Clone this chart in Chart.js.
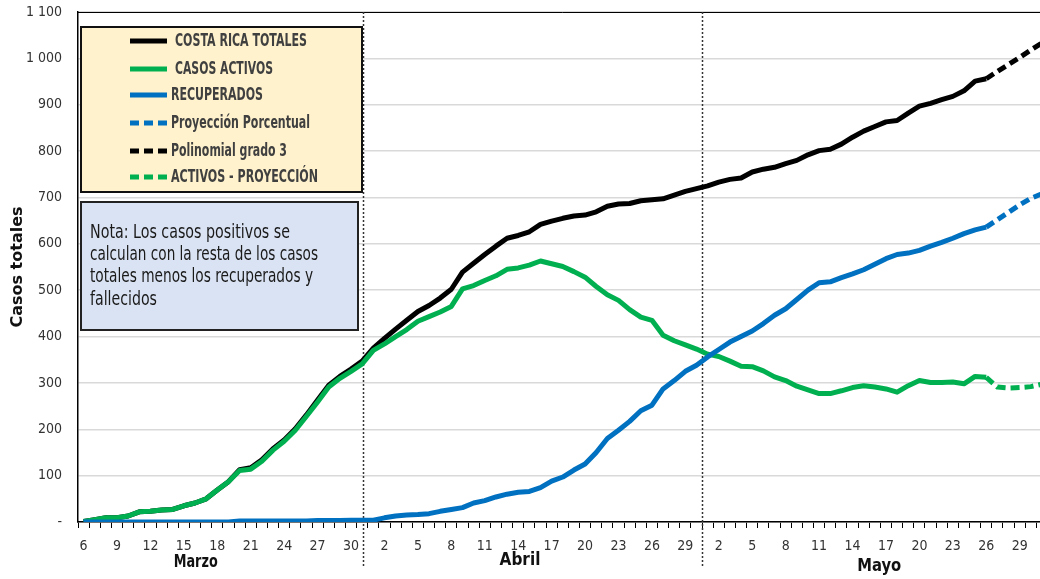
<!DOCTYPE html>
<html>
<head>
<meta charset="utf-8">
<script src="https://cdn.jsdelivr.net/npm/chart.js@4.4.0/dist/chart.umd.min.js"></script>
<style>
  html, body { margin: 0; padding: 0; background: #fff; overflow: hidden; }
  #wrap { width: 1052px; height: 579px; }
</style>
</head>
<body>
<div id="wrap"><canvas id="grafico" width="1052" height="579"></canvas></div>
<script>
'use strict';

// Categorias: un dia por punto, 6 de marzo a 31 de mayo
var diasMarzo = ['6','7','8','9','10','11','12','13','14','15','16','17','18','19','20','21','22','23','24','25','26','27','28','29','30','31'];
var diasAbril = ['1','2','3','4','5','6','7','8','9','10','11','12','13','14','15','16','17','18','19','20','21','22','23','24','25','26','27','28','29','30'];
var diasMayo = ['1','2','3','4','5','6','7','8','9','10','11','12','13','14','15','16','17','18','19','20','21','22','23','24','25','26','27','28','29','30','31'];
var meses = ['Marzo', 'Abril', 'Mayo'];

// Series (null = sin dato)
var totales = [1,5,9,9,13,22,23,26,27,35,41,50,69,87,113,117,134,158,177,201,231,263,295,314,330,347,
  375,396,416,435,454,467,483,502,539,558,577,595,612,618,626,642,649,655,660,662,669,681,686,687,693,695,697,705,713,719,
  725,733,739,742,755,761,765,773,780,792,801,804,815,830,843,853,863,866,882,897,903,911,918,930,951,956,
  null,null,null,null,null];
var activos = [1,5,9,9,13,22,23,26,27,35,41,50,69,87,111,114,131,155,174,198,228,259,291,310,325,341,
  370,384,400,415,433,443,453,465,503,510,521,531,545,548,554,563,557,551,540,528,508,490,478,458,442,435,403,391,382,373,
  362,357,347,336,335,326,313,305,293,285,277,277,283,290,294,291,287,280,294,305,301,301,302,298,314,312,
  null,null,null,null,null];
var recuperados = [0,0,0,0,0,0,0,0,0,0,0,0,0,0,2,2,2,2,2,2,2,3,3,3,4,4,
  4,9,13,15,16,18,23,27,31,41,46,54,60,64,66,74,88,97,112,125,150,180,198,217,240,252,287,305,325,338,
  356,372,388,400,412,428,446,460,480,500,516,518,527,535,544,556,568,577,580,586,595,603,612,622,630,636,
  null,null,null,null,null];
var sinDatos = [null,null,null,null,null,null,null,null,null,null,null,null,null,null,null,null,null,null,null,null,
  null,null,null,null,null,null,null,null,null,null,null,null,null,null,null,null,null,null,null,null,
  null,null,null,null,null,null,null,null,null,null,null,null,null,null,null,null,null,null,null,null,
  null,null,null,null,null,null,null,null,null,null,null,null,null,null,null,null,null,null,null,null,null];
var proyPorcentual = sinDatos.concat([636,652,668,684,698,708]);
var polinomial = sinDatos.concat([956,972,987,1002,1018,1033]);
var activosProy = sinDatos.concat([312,291,289,290,292,297]);

var nota = ['Nota: Los casos positivos se', 'calculan con la resta de los casos', 'totales menos los recuperados y', 'fallecidos'];

var categorias = diasMarzo.concat(diasAbril, diasMayo);

var negro = '#000000';
var verde = '#00B050';
var azul = '#0070C0';
var fuente = '"Liberation Sans Narrow", "Arial Narrow", "DejaVu Sans Condensed", sans-serif';

function miles(v) {
    if (v === 0) return '-';
    if (v >= 1000) return Math.floor(v / 1000) + ' ' + String(v % 1000).padStart(3, '0');
    return String(v);
}

// dibuja cajas, divisiones y etiquetas de mes
var decoracion = {
    id: 'decoracion',
    beforeDatasetsDraw: function (chart) {
        var ctx = chart.ctx, a = chart.chartArea, x = chart.scales.x;
        ctx.save();
        ctx.strokeStyle = '#000';
        ctx.lineWidth = 1;
        ctx.beginPath();
        ctx.moveTo(a.left, a.top + 0.5);
        ctx.lineTo(a.right, a.top + 0.5);
        ctx.stroke();
        ctx.setLineDash([2, 2]);
        ctx.strokeStyle = '#333';
        ctx.lineWidth = 1.5;
        [25.1, 55.5].forEach(function (v) {
            var px = Math.round(x.getPixelForValue(v)) + 0.5;
            ctx.beginPath();
            ctx.moveTo(px, a.top);
            ctx.lineTo(px, 568);
            ctx.stroke();
        });
        ctx.restore();
    },
    afterDraw: function (chart) {
        var ctx = chart.ctx, x = chart.scales.x;
        ctx.save();

        // meses
        ctx.fillStyle = '#111';
        ctx.font = 'bold 17px ' + fuente;
        ctx.textAlign = 'center';
        ctx.textBaseline = 'middle';
        var posMes = [10.06, 39.16, 71.4], yMes = [563, 561, 567];
        meses.forEach(function (m, i) {
            ctx.fillText(m, x.getPixelForValue(posMes[i]), yMes[i], 44);
        });

        // leyenda
        ctx.fillStyle = '#FFF2CC';
        ctx.fillRect(81, 27, 281, 165);
        ctx.strokeStyle = '#111';
        ctx.lineWidth = 2;
        ctx.strokeRect(81, 27, 281, 165);
        var filas = [41, 69, 95, 123, 151, 177];
        var xTexto = [175, 175, 171, 171, 171, 171];
        var anchos = [132, 98, 92, 139, 116, 147];
        ctx.textAlign = 'left';
        ctx.font = 'bold 17px ' + fuente;
        chart.data.datasets.forEach(function (ds, i) {
            ctx.strokeStyle = ds.borderColor;
            ctx.lineWidth = 5;
            ctx.setLineDash(ds.borderDash || []);
            ctx.beginPath();
            ctx.moveTo(130, filas[i]);
            ctx.lineTo(167, filas[i]);
            ctx.stroke();
            ctx.setLineDash([]);
            ctx.fillStyle = '#404040';
            ctx.fillText(ds.label, xTexto[i], filas[i] + 1, anchos[i]);
        });

        // nota
        ctx.fillStyle = '#DAE3F3';
        ctx.fillRect(81, 202, 277, 128);
        ctx.strokeStyle = '#222';
        ctx.lineWidth = 2;
        ctx.strokeRect(81, 202, 277, 128);
        ctx.fillStyle = '#1a1a1a';
        ctx.font = '19px ' + fuente;
        var yNota = [233, 255, 277, 300], anchoNota = [200, 228, 223, 67];
        nota.forEach(function (t, i) {
            ctx.fillText(t, 90, yNota[i], anchoNota[i]);
        });
        ctx.restore();
    }
};

var grafico = new Chart(document.getElementById('grafico'), {
    type: 'line',
    data: {
        labels: categorias,
        datasets: [
            { label: 'COSTA RICA TOTALES', data: totales, borderColor: negro, order: 3 },
            { label: 'CASOS ACTIVOS', data: activos, borderColor: verde, order: 2 },
            { label: 'RECUPERADOS', data: recuperados, borderColor: azul, order: 1 },
            { label: 'Proyección Porcentual', data: proyPorcentual, borderColor: azul, borderDash: [9, 5], order: 1 },
            { label: 'Polinomial grado 3', data: polinomial, borderColor: negro, borderDash: [9, 5], order: 3 },
            { label: 'ACTIVOS - PROYECCIÓN', data: activosProy, borderColor: verde, borderDash: [9, 5], order: 2 }
        ]
    },
    options: {
        responsive: false,
        animation: false,
        layout: { padding: { top: 12, right: 2, bottom: 0, left: 0 } },
        plugins: { legend: { display: false }, tooltip: { enabled: false } },
        elements: {
            point: { radius: 0 },
            line: { tension: 0, borderWidth: 5, fill: false, borderCapStyle: 'butt', borderJoinStyle: 'round' }
        },
        scales: {
            x: {
                type: 'category',
                offset: true,
                grid: { drawOnChartArea: false, drawTicks: true, tickLength: 6, color: '#000', offset: true },
                border: { display: true, color: '#000', width: 1.5 },
                ticks: {
                    autoSkip: false, maxRotation: 0, minRotation: 0, padding: 10, color: '#333',
                    font: { family: fuente, size: 14 },
                    callback: function (v, i) { return i % 3 === 0 ? this.getLabelForValue(v) : ''; }
                },
                afterFit: function (s) { s.height = 57; }
            },
            y: {
                min: 0, max: 1100,
                ticks: { stepSize: 100, padding: 16, color: '#333', font: { family: fuente, size: 14 }, callback: miles },
                grid: { color: '#d9d9d9', lineWidth: 1.5, drawTicks: false },
                border: { display: true, color: '#000', width: 1.5 },
                title: {
                    display: true, text: 'Casos totales', color: '#111',
                    font: { family: '"DejaVu Sans", Verdana, sans-serif', weight: 'bold', size: 16 },
                    padding: { top: 8, bottom: 0 }
                },
                afterFit: function (s) { s.width = 78; s.paddingTop = 0; s.paddingBottom = 0; }
            }
        }
    },
    plugins: [decoracion]
});
</script>
</body>
</html>
